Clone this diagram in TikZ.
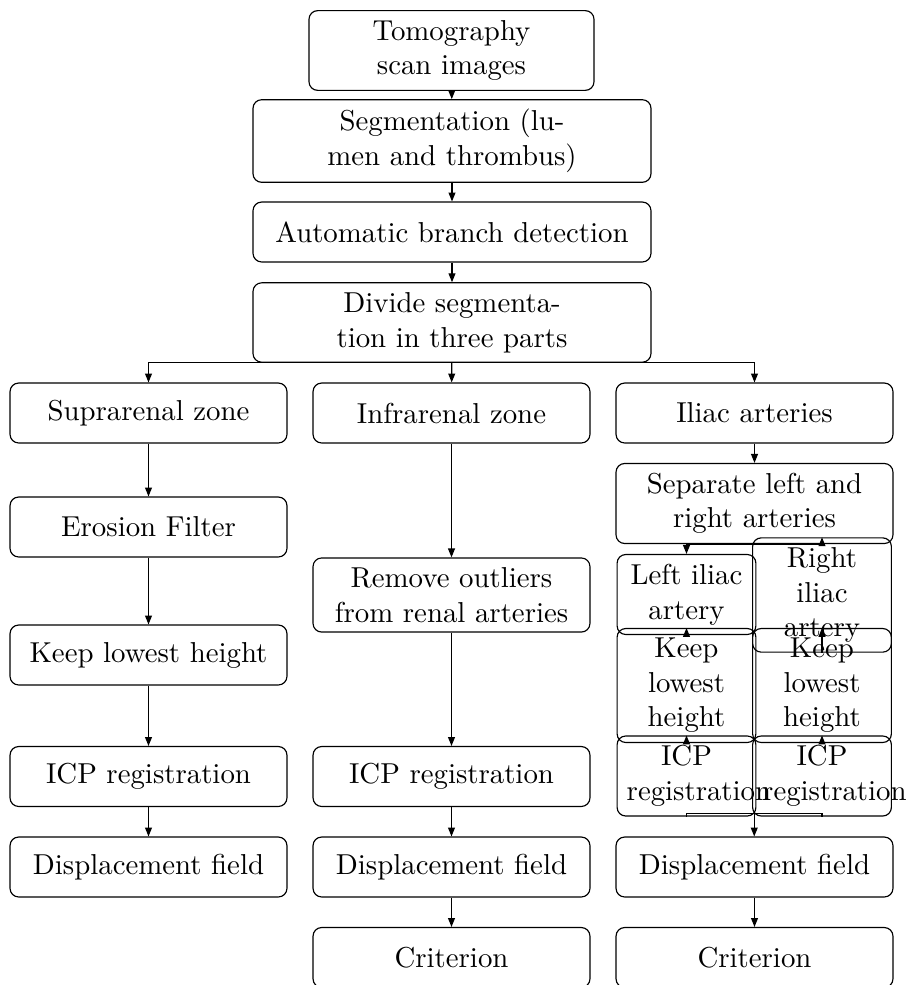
\documentclass[tikz,border=0pt]{standalone}
\usepackage{tikz}
\usetikzlibrary{positioning,arrows.meta,calc}
\tikzset{
  proc/.style={draw,rounded corners=3pt,align=center,minimum height=20.8pt,inner sep=3.33pt},
  topbox/.style={proc,minimum width=138.1pt},
  colbox/.style={proc,minimum width=96.1pt},
  subbox/.style={proc,text width=41.5pt},
  flow/.style={-{Triangle[length=3.1pt,width=2.4pt]},line width=0.4pt},
}
\begin{document}
\begin{tikzpicture}[x=0.347pt,y=-0.347pt]
  \useasboundingbox (0,0) rectangle (907,985);
  % common trunk
  \node[proc,minimum width=98.9pt] (tomo) at (451.5,50.5) {Tomography\\scan images};
  \node[topbox] (seg) at (452,141) {Segmentation (lu-\\men and thrombus)};
  \node[topbox] (auto) at (452,232) {Automatic branch detection};
  \node[topbox] (div) at (452,322.5) {Divide segmenta-\\tion in three parts};
  % three zones
  \node[colbox] (supra) at (148.5,413) {Suprarenal zone};
  \node[colbox] (infra) at (451.5,413) {Infrarenal zone};
  \node[colbox] (iliac) at (754.5,413) {Iliac arteries};
  % suprarenal
  \node[colbox] (ero) at (148.5,527) {Erosion Filter};
  \node[colbox] (keepS) at (148.5,655) {Keep lowest height};
  \node[colbox] (icpS) at (148.5,776.5) {ICP registration};
  \node[colbox] (dispS) at (148.5,867) {Displacement field};
  % infrarenal
  \node[colbox] (rem) at (451.5,595) {Remove outliers\\from renal arteries};
  \node[colbox] (icpM) at (451.5,776.5) {ICP registration};
  \node[colbox] (dispM) at (451.5,867) {Displacement field};
  \node[colbox] (critM) at (451.5,957.5) {Criterion};
  % iliac
  \node[colbox] (sep) at (754.5,503.5) {Separate left and\\right arteries};
  \node[subbox] (leftI) at (686.5,594.5) {Left iliac artery};
  \node[subbox] (rightI) at (822,595) {Right iliac artery};
  \node[subbox] (keepL) at (686.5,685.5) {Keep lowest height};
  \node[subbox] (keepR) at (822,685.5) {Keep lowest height};
  \node[subbox] (icpL) at (686.5,776) {ICP \mbox{registration}};
  \node[subbox] (icpR) at (822,776) {ICP \mbox{registration}};
  \node[colbox] (dispR) at (754.5,867) {Displacement field};
  \node[colbox] (critR) at (754.5,957.5) {Criterion};

  \draw[flow] (tomo) -- (seg);
  \draw[flow] (seg) -- (auto);
  \draw[flow] (auto) -- (div);
  \draw[flow] (div.south) -| (supra.north);
  \draw[flow] (div) -- (infra);
  \draw[flow] (div.south) -| (iliac.north);

  \draw[flow] (supra) -- (ero);
  \draw[flow] (ero) -- (keepS);
  \draw[flow] (keepS) -- (icpS);
  \draw[flow] (icpS) -- (dispS);

  \draw[flow] (infra) -- (rem);
  \draw[flow] (rem) -- (icpM);
  \draw[flow] (icpM) -- (dispM);
  \draw[flow] (dispM) -- (critM);

  \draw[flow] (iliac) -- (sep);
  \draw[flow] (sep.south) -| (leftI.north);
  \draw[flow] (sep.south) -| (rightI.north);
  \draw[flow] (leftI) -- (keepL);
  \draw[flow] (rightI) -- (keepR);
  \draw[flow] (keepL) -- (icpL);
  \draw[flow] (keepR) -- (icpR);
  \coordinate (mrg) at ($(icpL.south)!.5!(icpR.south)+(0,-3)$);
  \draw (icpL.south) |- (mrg) -| (icpR.south);
  \draw[flow] (mrg) -- (mrg |- dispR.north);
  \draw[flow] (dispR) -- (critR);
\end{tikzpicture}
\end{document}
